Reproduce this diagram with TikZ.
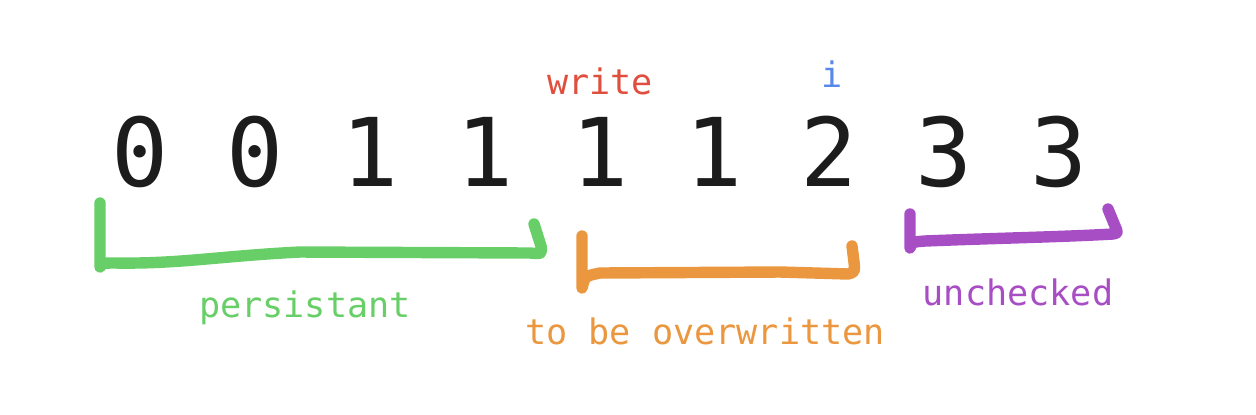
\documentclass[tikz,border=0pt]{standalone}
\usepackage{fontspec}
\setmonofont{DejaVu Sans Mono}
\usetikzlibrary{positioning}
\definecolor{digitblack}{RGB}{28,28,28}
\definecolor{writered}{RGB}{224,78,62}
\definecolor{idxblue}{RGB}{88,136,234}
\definecolor{keepgreen}{RGB}{104,207,104}
\definecolor{overorange}{RGB}{234,151,63}
\definecolor{openpurple}{RGB}{168,78,196}

\begin{document}
\begin{tikzpicture}[
        x=0.02cm, y=-0.02cm,
        digit/.style={anchor=base, inner sep=0pt, text=digitblack, font=\ttfamily\fontsize{54}{54}\selectfont},
        tag/.style={anchor=base, inner sep=0pt, font=\ttfamily\fontsize{20}{20}\selectfont},
        brace/.style={line width=6.5pt, line cap=round, line join=round}
    ]
        \useasboundingbox (0,0) rectangle (1256,414);

        % Row of values
        \foreach \v [count=\k] in {0,0,1,1,1,1,2,3,3}
            \node[digit] (d\k) at ({140+114.9*(\k-1)},186) {\v};

        % Pointers above the row
        \node[tag, text=writered] (write) at (600,94) {write};
        \node[tag, text=idxblue] (idx) at (832,87) {i};

        % Hand-drawn brackets
        \draw[brace, keepgreen] (100,203) -- (100,267) .. controls (103,263) .. (115,263)
            .. controls (180,264) and (220,256) .. (300,252) -- (530,253)
            .. controls (542,254) .. (541,246) -- (534,224);
        \draw[brace, overorange] (582,236) -- (582,288) .. controls (585,276) .. (600,273)
            -- (780,272) -- (848,274) .. controls (855,272) .. (854,262) -- (852,246);
        \draw[brace, openpurple] (910,214) -- (910,248) .. controls (912,242) .. (925,241)
            .. controls (1000,238) and (1060,237) .. (1113,234)
            .. controls (1118,233) .. (1115,226) -- (1108,209);

        % Labels below the brackets
        \node[tag, text=keepgreen] (persist) at (305,317) {persistant};
        \node[tag, text=overorange] (over) at (705,344) {to be overwritten};
        \node[tag, text=openpurple] (open) at (1018,305) {unchecked};
    \end{tikzpicture}
\end{document}
